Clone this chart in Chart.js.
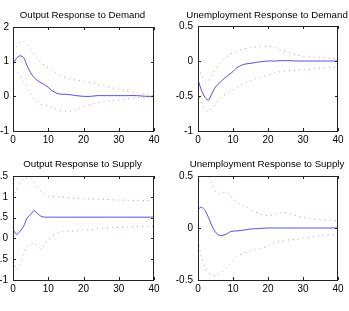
<!DOCTYPE html>
<html>
<head>
<meta charset="utf-8">
<script src="https://cdn.jsdelivr.net/npm/chart.js@4"></script>
<style>
  html, body { margin: 0; padding: 0; background: #fff; overflow: hidden; }
  body { width: 349px; height: 311px; position: relative; }
  canvas { position: absolute; }
</style>
</head>
<body>
<canvas id="c1" width="175" height="155" style="left:0px;top:0px"></canvas>
<canvas id="c2" width="174" height="155" style="left:175px;top:0px"></canvas>
<canvas id="c3" width="185" height="156" style="left:-10px;top:155px"></canvas>
<canvas id="c4" width="174" height="156" style="left:175px;top:155px"></canvas>
<script>
// ---- data ----
const LAGS = [0,1,2,3,4,5,6,7,8,9,10,11,12,13,14,15,16,18,20,22,24,26,28,30,32,35,38,40];

const OUT_DEM    = [0.91,1.10,1.17,1.12,0.88,0.68,0.54,0.45,0.39,0.33,0.26,0.17,0.11,0.07,0.06,0.06,0.05,0.02,0.00,0.00,0.02,0.02,0.02,0.02,0.02,0.02,0.00,0.00];
const OUT_DEM_UP = [1.30,1.45,1.55,1.58,1.50,1.36,1.22,1.08,0.97,0.89,0.82,0.75,0.68,0.62,0.57,0.53,0.50,0.47,0.44,0.39,0.34,0.30,0.25,0.20,0.16,0.10,0.05,0.02];
const OUT_DEM_LO = [0.75,0.70,0.60,0.44,0.25,0.07,-0.08,-0.17,-0.23,-0.26,-0.28,-0.32,-0.36,-0.39,-0.42,-0.43,-0.44,-0.38,-0.29,-0.23,-0.18,-0.15,-0.12,-0.10,-0.08,-0.04,-0.02,0.00];

const UNE_DEM    = [-0.27,-0.42,-0.52,-0.56,-0.46,-0.37,-0.32,-0.27,-0.23,-0.19,-0.15,-0.10,-0.07,-0.05,-0.04,-0.034,-0.025,-0.01,0.00,0.00,0.005,0.005,0.00,0.00,0.00,0.00,0.00,0.00];
const UNE_DEM_UP = [-0.10,-0.20,-0.30,-0.28,-0.20,-0.12,-0.05,0.00,0.05,0.09,0.12,0.14,0.16,0.17,0.18,0.19,0.20,0.21,0.21,0.19,0.15,0.12,0.09,0.07,0.06,0.05,0.04,0.04];
const UNE_DEM_LO = [-0.45,-0.60,-0.68,-0.72,-0.68,-0.62,-0.55,-0.50,-0.47,-0.44,-0.41,-0.38,-0.35,-0.32,-0.30,-0.28,-0.26,-0.23,-0.20,-0.17,-0.15,-0.14,-0.13,-0.13,-0.12,-0.10,-0.09,-0.08];

const OUT_SUP    = [0.21,0.10,0.17,0.29,0.49,0.57,0.67,0.59,0.53,0.51,0.51,0.51,0.51,0.51,0.51,0.51,0.51,0.51,0.51,0.51,0.51,0.51,0.51,0.51,0.51,0.51,0.51,0.51];
const OUT_SUP_UP = [0.97,1.17,1.33,1.44,1.47,1.45,1.33,1.21,1.13,1.07,1.02,1.01,1.00,1.00,0.99,0.99,0.98,0.96,0.95,0.95,0.94,0.94,0.93,0.92,0.92,0.91,0.91,0.92];
const OUT_SUP_LO = [-0.55,-0.75,-0.63,-0.39,-0.19,-0.15,-0.11,-0.19,-0.25,-0.15,-0.03,0.05,0.10,0.14,0.17,0.18,0.18,0.18,0.20,0.21,0.23,0.25,0.26,0.26,0.27,0.28,0.29,0.29];

const UNE_SUP    = [0.18,0.20,0.17,0.10,0.02,-0.04,-0.07,-0.07,-0.06,-0.04,-0.03,-0.028,-0.025,-0.02,-0.016,-0.01,-0.008,-0.004,0.00,0.00,0.00,0.00,0.00,0.00,0.00,0.00,0.00,0.00];
const UNE_SUP_UP = [0.40,0.52,0.55,0.50,0.42,0.35,0.33,0.33,0.35,0.32,0.28,0.25,0.23,0.21,0.20,0.18,0.16,0.13,0.12,0.13,0.15,0.14,0.12,0.10,0.09,0.08,0.075,0.07];
const UNE_SUP_LO = [-0.12,-0.28,-0.38,-0.43,-0.45,-0.46,-0.44,-0.42,-0.39,-0.35,-0.31,-0.28,-0.26,-0.245,-0.23,-0.22,-0.21,-0.20,-0.17,-0.14,-0.125,-0.115,-0.11,-0.10,-0.09,-0.075,-0.065,-0.06];

const TITLES = ["Output Response to Demand","Unemployment Response to Demand","Output Response to Supply","Unemployment Response to Supply"];
const X_RANGE = [0, 40];
const X_STEP = 10;
const Y_RANGES = [[-1, 2], [-1, 0.5], [-1, 1.5], [-0.5, 0.5]];
const Y_STEPS = [1, 0.5, 0.5, 0.5];

// ---- drawing ----
const FONT = "'Liberation Sans', Arial, Helvetica, sans-serif";

const boxPlugin = {
  id: 'matlabBox',
  afterDraw(chart, args, opts) {
    const {ctx, chartArea: a, scales} = chart;
    ctx.save();
    ctx.strokeStyle = '#222';
    ctx.lineWidth = 1;
    ctx.strokeRect(Math.round(a.left) + 0.5, Math.round(a.top) + 0.5,
                   Math.round(a.right - a.left) - 1, Math.round(a.bottom - a.top));
    ctx.beginPath();
    const tl = 3;
    scales.x.ticks.forEach(t => {
      const px = Math.round(scales.x.getPixelForValue(t.value)) + 0.5;
      ctx.moveTo(px, a.bottom); ctx.lineTo(px, a.bottom - tl);
      ctx.moveTo(px, a.top); ctx.lineTo(px, a.top + tl);
    });
    scales.y.ticks.forEach(t => {
      const py = Math.round(scales.y.getPixelForValue(t.value)) + 0.5;
      ctx.moveTo(a.left, py); ctx.lineTo(a.left + tl, py);
      ctx.moveTo(a.right, py); ctx.lineTo(a.right - tl, py);
    });
    ctx.stroke();
    // axes title (drawn without width squeezing)
    ctx.fillStyle = '#000';
    ctx.font = '9.7px ' + FONT;
    ctx.textAlign = 'center';
    ctx.textBaseline = 'middle';
    ctx.fillText(opts.text, (a.left + a.right) / 2 - 1, opts.y);
    ctx.restore();
  }
};

function pts(ys) { return LAGS.map((x, i) => ({x: x, y: ys[i]})); }
function fmt(v) { return String(Math.round(v * 100) / 100); }

function makeChart(id, idx, series, cfg) {
  const blue = {data: pts(series[0]), borderColor: 'rgba(45,45,225,0.85)', borderWidth: 1, pointRadius: 0, tension: 0.25};
  const redStyle = {borderColor: 'rgba(205,50,90,0.6)', borderWidth: 1, borderDash: [1, 4], pointRadius: 0, tension: 0.25};
  new Chart(document.getElementById(id), {
    type: 'line',
    data: {datasets: [
      Object.assign({data: pts(series[1])}, redStyle),
      blue,
      Object.assign({data: pts(series[2])}, redStyle)
    ]},
    options: {
      responsive: false, animation: false, devicePixelRatio: 1,
      layout: {padding: {left: 0, right: cfg.padRight, top: cfg.padTop, bottom: 0}},
      plugins: {
        legend: {display: false}, tooltip: {enabled: false}, title: {display: false},
        matlabBox: {text: TITLES[idx], y: cfg.titleY}
      },
      scales: {
        x: {type: 'linear', min: X_RANGE[0], max: X_RANGE[1],
            grid: {display: false, drawTicks: false}, border: {display: false},
            ticks: {stepSize: X_STEP, color: '#000', padding: 3, maxRotation: 0,
                    font: {family: FONT, size: 10}},
            afterFit(s) { s.height = cfg.xHeight; }},
        y: {min: Y_RANGES[idx][0], max: Y_RANGES[idx][1],
            grid: {display: false, drawTicks: false}, border: {display: false},
            ticks: {stepSize: Y_STEPS[idx], color: '#000', padding: cfg.yPad, callback: fmt,
                    font: {family: FONT, size: 10}},
            afterFit(s) { s.width = cfg.yWidth; }}
      }
    },
    plugins: [boxPlugin]
  });
}

makeChart('c1', 0, [OUT_DEM, OUT_DEM_UP, OUT_DEM_LO], {padRight: 21, padTop: 27, titleY: 15, xHeight: 24, yWidth: 13, yPad: 4});
makeChart('c2', 1, [UNE_DEM, UNE_DEM_UP, UNE_DEM_LO], {padRight: 11, padTop: 26, titleY: 15, xHeight: 24, yWidth: 23, yPad: 5});
makeChart('c3', 2, [OUT_SUP, OUT_SUP_UP, OUT_SUP_LO], {padRight: 21, padTop: 21, titleY: 9, xHeight: 31, yWidth: 23, yPad: 5});
makeChart('c4', 3, [UNE_SUP, UNE_SUP_UP, UNE_SUP_LO], {padRight: 11, padTop: 21, titleY: 9, xHeight: 31, yWidth: 23, yPad: 5});
</script>
</body>
</html>
